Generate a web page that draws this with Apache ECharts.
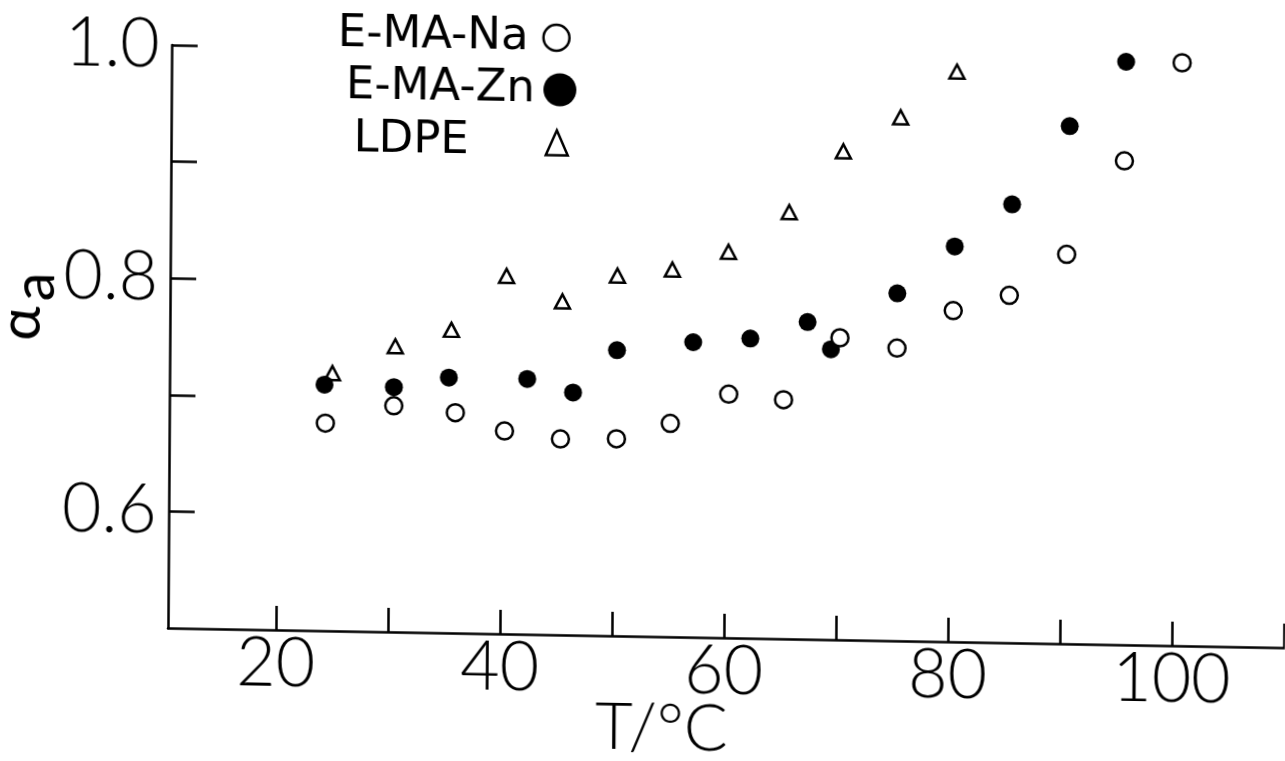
<!DOCTYPE html>
<html>
<head>
<meta charset="utf-8">
<script src="https://cdn.jsdelivr.net/npm/echarts@6/dist/echarts.min.js"></script>
<style>
  html, body { margin: 0; padding: 0; background: #fff; overflow: hidden; }
  /* the figure sits on a slightly sheared sheet */
  #chart {
    width: 1285px; height: 761px;
    transform-origin: 168px 626px;
    transform: matrix(1, 0.0176, -0.0064, 1, 0, 0);
  }
</style>
</head>
<body>
<div id="chart"></div>
<script>
// Temperature (°C) and alpha_a readings for each material
const naTemp   = [24.3, 30.4, 35.9, 40.3, 45.3, 50.3, 55.1, 60.3, 65.2, 70.2, 75.3, 80.3, 85.3, 90.4, 95.5, 100.6];
const naAlpha  = [0.678, 0.694, 0.689, 0.674, 0.668, 0.669, 0.683, 0.709, 0.705, 0.759, 0.751, 0.784, 0.798, 0.834, 0.915, 1.0];

const znTemp   = [24.2, 30.4, 35.3, 42.3, 46.4, 50.3, 57.1, 62.2, 67.3, 69.4, 75.3, 80.4, 85.5, 90.6, 95.6];
const znAlpha  = [0.711, 0.710, 0.719, 0.719, 0.708, 0.745, 0.753, 0.757, 0.772, 0.749, 0.798, 0.839, 0.876, 0.944, 1.0];

const ldpeTemp  = [24.9, 30.5, 35.5, 40.4, 45.4, 50.3, 55.2, 60.2, 65.6, 70.4, 75.5, 80.5];
const ldpeAlpha = [0.721, 0.745, 0.760, 0.807, 0.786, 0.809, 0.815, 0.831, 0.866, 0.919, 0.949, 0.989];

const seriesNames = ['E-MA-Na', 'E-MA-Zn', 'LDPE'];

const xTickValues  = [20, 30, 40, 50, 60, 70, 80, 90, 100, 110];
const xLabelValues = [20, 40, 60, 80, 100];
const yTickValues  = [0.6, 0.7, 0.8, 0.9, 1.0];
const yLabelValues = [0.6, 0.8, 1.0];

const pairs = (xs, ys) => xs.map((x, i) => [x, ys[i]]);

const INK = '#000';
const thinFont = { fontFamily: 'Lato, "Open Sans", sans-serif', fontWeight: 300, color: INK };
const legendText = { fontFamily: '"DejaVu Sans", sans-serif', fontSize: 45, lineHeight: 46, color: INK };

const chart = echarts.init(document.getElementById('chart'), null, { renderer: 'canvas' });

chart.setOption({
  animation: false,
  backgroundColor: '#fff',
  grid: { left: 168, right: 0, top: 45, bottom: 133, containLabel: false, outerBoundsMode: 'none' },
  xAxis: {
    type: 'value',
    min: 10.36,
    max: 110.1,
    axisLine: { show: true, lineStyle: { color: INK, width: 2.5 } },
    axisTick: { show: true, inside: true, length: 24, customValues: xTickValues, lineStyle: { color: INK, width: 2.5 } },
    axisLabel: { show: true, customValues: xLabelValues, margin: 0, fontSize: 68, ...thinFont },
    splitLine: { show: false }
  },
  yAxis: {
    type: 'value',
    min: 0.5,
    max: 1.0,
    interval: 0.1,
    axisLine: { show: true, lineStyle: { color: INK, width: 2.5 } },
    axisTick: { show: true, inside: true, length: 26, customValues: yTickValues, lineStyle: { color: INK, width: 2.5 } },
    axisLabel: { show: true, customValues: yLabelValues, margin: 12, fontSize: 68, ...thinFont,
                 formatter: v => v.toFixed(1) },
    splitLine: { show: false }
  },
  legend: [
    { data: [seriesNames[0]], orient: 'vertical', align: 'right', right: 718, top: 8, padding: 0,
      itemWidth: 46, itemHeight: 26, selectedMode: false, textStyle: legendText,
      itemStyle: { borderWidth: 2.5 } },
    { data: [seriesNames[1]], orient: 'vertical', align: 'right', right: 712, top: 60, padding: 0,
      itemWidth: 40, itemHeight: 33, selectedMode: false, textStyle: legendText },
    { data: [seriesNames[2]], orient: 'vertical', align: 'right', right: 719, top: 113, padding: 0,
      itemWidth: 22, itemHeight: 25, selectedMode: false,
      textStyle: { ...legendText, padding: [0, 72, 0, 0] },
      itemStyle: { borderWidth: 2.5 } }
  ],
  graphic: [
    { type: 'text', x: 662, y: 720,
      style: { text: 'T/°C', fontSize: 65, fontFamily: 'Lato, sans-serif', fontWeight: 300, fill: INK,
               align: 'center', verticalAlign: 'middle' } },
    { type: 'text', x: 19, y: 326, rotation: Math.PI / 2,
      style: { text: 'α', fontSize: 58, fontFamily: 'Lato, sans-serif', fontWeight: 400, fill: INK,
               align: 'center', verticalAlign: 'middle' } },
    { type: 'text', x: 33, y: 289, rotation: Math.PI / 2,
      style: { text: 'a', fontSize: 58, fontFamily: 'Lato, sans-serif', fontWeight: 400, fill: INK,
               align: 'center', verticalAlign: 'middle' } }
  ],
  series: [
    { name: seriesNames[0], type: 'scatter', clip: false, symbol: 'circle', symbolSize: 17,
      itemStyle: { color: '#fff', borderColor: INK, borderWidth: 2.5, opacity: 1 },
      data: pairs(naTemp, naAlpha), z: 3 },
    { name: seriesNames[1], type: 'scatter', clip: false, symbol: 'circle', symbolSize: 18,
      itemStyle: { color: INK, opacity: 1 },
      data: pairs(znTemp, znAlpha), z: 2 },
    { name: seriesNames[2], type: 'scatter', clip: false, symbol: 'triangle', symbolSize: [15, 14],
      itemStyle: { color: '#fff', borderColor: INK, borderWidth: 2.5, opacity: 1 },
      data: pairs(ldpeTemp, ldpeAlpha), z: 1 }
  ]
});
</script>
</body>
</html>
